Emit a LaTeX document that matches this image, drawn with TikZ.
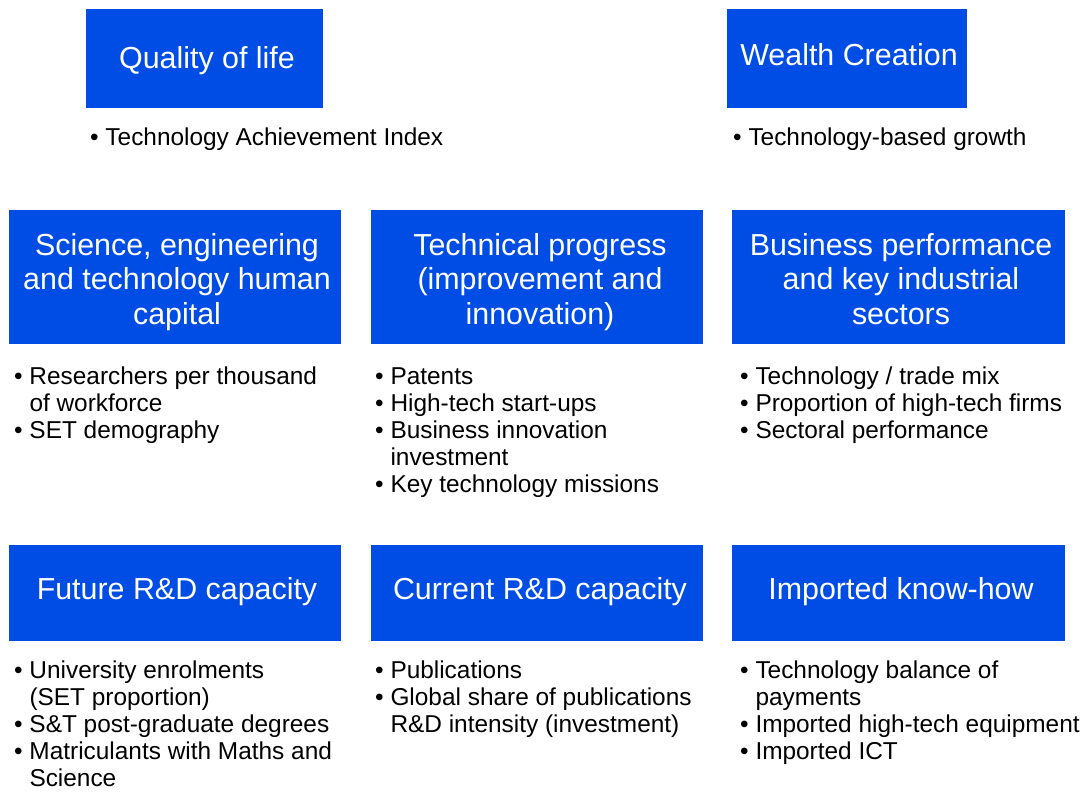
\documentclass[tikz,border=0pt]{standalone}
\usepackage{fontspec}
\setmainfont{Liberation Sans}
\definecolor{boxblue}{RGB}{0,77,229}
\newcommand{\bitem}[1]{\textbullet\ #1}
\newcommand{\bcont}[1]{\phantom{\textbullet\ }#1}
\newcommand{\blines}[1]{\parbox[t]{400pt}{\raggedright #1}}
\newcommand{\tlines}[1]{\parbox[t]{330pt}{\centering #1}}
\begin{document}
\begin{tikzpicture}[x=1pt,y=-1pt,
  box/.style={fill=boxblue, draw=none, inner sep=0pt},
  title/.style={text=white, inner sep=0pt, anchor=base,
    font=\fontsize{30.4}{34.5}\selectfont},
  blist/.style={inner sep=0pt, anchor=base west, font=\fontsize{24.4}{27}\selectfont}]
\useasboundingbox (0,0) rectangle (1088,792);
\fill[white] (0,0) rectangle (1088,792);
% top row
\node[box, minimum width=237pt, minimum height=99pt] (qol) at (204.5,58.5) {};
\node[title] (qolt) at (207,69) {Quality of life};
\node[box, minimum width=240pt, minimum height=99pt] (wc) at (847,58.5) {};
\node[title] (wct) at (849,66) {Wealth Creation};
\node[blist] (qoll) at (90,146) {\blines{\bitem{Technology Achievement Index}}};
\node[blist] (wcl) at (733,146) {\blines{\bitem{Technology-based growth}}};
% middle row
\node[box, minimum width=332pt, minimum height=134pt] (set) at (175,277) {};
\node[title] (sett) at (177,255) {\tlines{Science, engineering\\and technology human\\capital}};
\node[box, minimum width=332pt, minimum height=134pt] (tp) at (537,277) {};
\node[title] (tpt) at (540,255) {\tlines{Technical progress\\(improvement and\\innovation)}};
\node[box, minimum width=333pt, minimum height=134pt] (bp) at (898.5,277) {};
\node[title] (bpt) at (901,255) {\tlines{Business performance\\and key industrial\\sectors}};
\node[blist] (setl) at (14,384) {\blines{\bitem{Researchers per thousand}\\
  \bcont{of workforce}\\ \bitem{SET demography}}};
\node[blist] (tpl) at (375,384) {\blines{\bitem{Patents}\\ \bitem{High-tech start-ups}\\
  \bitem{Business innovation}\\ \bcont{investment}\\ \bitem{Key technology missions}}};
\node[blist] (bpl) at (740,384) {\blines{\bitem{Technology / trade mix}\\
  \bitem{Proportion of high-tech firms}\\ \bitem{Sectoral performance}}};
% bottom row
\node[box, minimum width=332pt, minimum height=96pt] (frd) at (175,593) {};
\node[title] (frdt) at (177,599) {Future R\&D capacity};
\node[box, minimum width=332pt, minimum height=96pt] (crd) at (537,593) {};
\node[title] (crdt) at (540,599) {Current R\&D capacity};
\node[box, minimum width=333pt, minimum height=96pt] (ikh) at (898.5,593) {};
\node[title] (ikht) at (901,599) {Imported know-how};
\node[blist] (frdl) at (14,678) {\blines{\bitem{University enrolments}\\
  \bcont{(SET proportion)}\\ \bitem{S\&T post-graduate degrees}\\
  \bitem{Matriculants with Maths and}\\ \bcont{Science}}};
\node[blist] (crdl) at (375,678) {\blines{\bitem{Publications}\\
  \bitem{Global share of publications}\\ \bcont{R\&D intensity (investment)}}};
\node[blist] (ikhl) at (740,678) {\blines{\bitem{Technology balance of}\\
  \bcont{payments}\\ \bitem{Imported high-tech equipment}\\ \bitem{Imported ICT}}};
\end{tikzpicture}
\end{document}
